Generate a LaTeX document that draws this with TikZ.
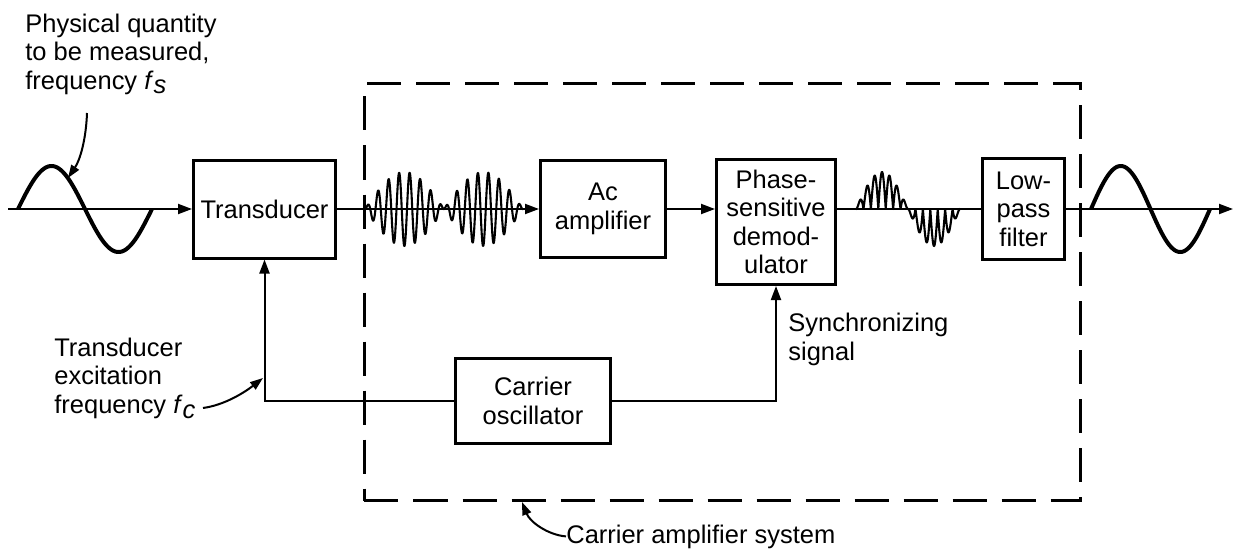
\documentclass[tikz,border=0pt]{standalone}
\usepackage{fontspec}
\setmainfont{Liberation Sans}
\usepackage{tikz}
\usetikzlibrary{arrows.meta}

\begin{document}
\begin{tikzpicture}[
x=0.2mm,y=-0.2mm,
font=\fontsize{14.5}{16.2}\selectfont,
box/.style={draw,line width=0.6mm,align=center,inner sep=0pt},
flow/.style={-{Triangle[length=2.8mm,width=2mm]},line width=0.4mm},
link/.style={line width=0.4mm},
wave/.style={line width=0.8mm,line join=round},
fine/.style={line width=0.42mm,line join=round},
note/.style={align=left,anchor=base west,inner sep=0pt},
pointer/.style={-{Triangle[length=2.6mm,width=1.8mm]},line width=0.4mm},
sysbox/.style={draw,line width=0.6mm,dash pattern=on 6.8mm off 3mm}]
\useasboundingbox (0,0) rectangle (1234,549);
% blocks
\node[box,minimum width=28.4mm,minimum height=19.6mm] (trans) at (264.5,209) {Transducer};
\node[box,minimum width=25mm,minimum height=19.4mm] (ac) at (603,209) {Ac\\amplifier};
\node[box,minimum width=23.8mm,minimum height=25mm] (demod) at (776,222) {Phase-\\sensitive\\demod-\\ulator};
\node[box,minimum width=16.4mm,minimum height=20.2mm] (lp) at (1023.5,209) {Low-\\pass\\filter};
\node[box,minimum width=31mm,minimum height=17mm] (osc) at (533,401) {Carrier\\oscillator};
\node[sysbox,minimum width=143.2mm,minimum height=83.4mm] (sys) at (722.5,292) {};
% labels (base = last line)
\node[note] (phys) at (25,89) {Physical quantity\\to be measured,\\frequency \textit{f}$_{\textit{s}}$};
\node[note] (excl) at (54,413) {Transducer\\excitation\\frequency \textit{f}$_{\textit{c}}$};
\node[note] (sync) at (788,360) {Synchronizing\\signal};
\node[note] (sysl) at (566,543) {Carrier amplifier system};
\coordinate (in) at (8,209);
\coordinate (out) at (1233,209);
\coordinate (physa) at (87,113);
\coordinate (physb) at (68,178);
\coordinate (excla) at (203,408);
\coordinate (exclb) at (263,378);
\coordinate (systip) at (522,502);
% signal path
\draw[flow] (in) -- (trans);
\draw[flow] (trans) -- (ac);
\draw[flow] (ac.east) -- (ac.east -| demod.west);
\draw[link] (lp.west -| demod.east) -- (lp.west);
\draw[flow] (lp) -- (out);
\draw[flow] (osc.west) -| (trans.south);
\draw[flow] (osc.east) -| (demod.south);
% waveforms
\draw[wave] plot[domain=0:134,samples=120] ({18+\x},{209-43*sin(\x/134*360)});
\draw[fine] plot[domain=0:158,samples=700] ({365+\x},{209-37*sin(\x/79*180)*sin(\x/10.5*360)});
\draw[fine] plot[domain=0:104,samples=600] ({856+\x},{209-37*sin(\x/104*360)*abs(sin(\x/7.43*180))});
\draw[wave] plot[domain=0:119,samples=120] ({1091+\x},{209-43*sin(\x/119*360)});
% pointers
\draw[pointer] (physa) .. controls (86,140) and (80,160) .. (physb);
\draw[pointer] (excla) .. controls (225,405) and (245,392) .. (exclb);
\draw[pointer] (sysl.west) .. controls (548,535) and (530,522) .. (systip);
\end{tikzpicture}
\end{document}
